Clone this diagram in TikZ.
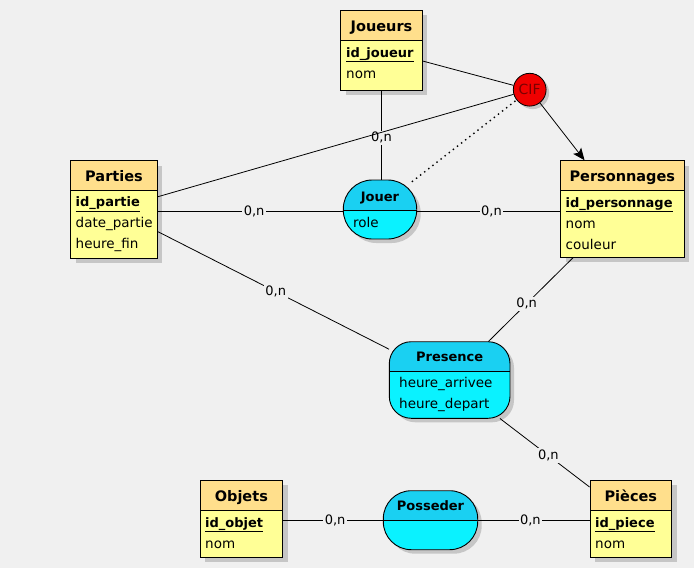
\documentclass[tikz,border=0pt]{standalone}
\usepackage{fontspec}
\setmainfont{DejaVu Sans}
\usetikzlibrary{arrows.meta,fit,calc}
\definecolor{bg}{HTML}{F0F0F0}
\definecolor{enthead}{HTML}{FFDF8C}
\definecolor{entbody}{HTML}{FFFF96}
\definecolor{ashead}{HTML}{1AD0F2}
\definecolor{asbody}{HTML}{0AF2FF}
\definecolor{shadowc}{HTML}{C6C6C6}
\definecolor{cifred}{HTML}{F00000}
\definecolor{ciftext}{HTML}{7A0000}
\tikzset{
  enttitle/.style={inner sep=0pt, anchor=base, font=\fontsize{14.5}{17}\selectfont\bfseries},
  astitle/.style={inner sep=0pt, anchor=base, font=\fontsize{13}{15}\selectfont\bfseries},
  attr/.style={inner sep=0pt, anchor=base west, font=\fontsize{13.5}{16}\selectfont},
  keyattr/.style={inner sep=0pt, anchor=base west, font=\fontsize{13}{16}\selectfont\bfseries},
  lbl/.style={fill=bg, inner sep=1.5pt, font=\fontsize{13}{15}\selectfont},
  conn/.style={draw=black, line width=0.8pt},
  rr/.style n args={5}{insert path={
    (#1+#5,#2) -- (#3-#5,#2) .. controls (#3-#5*0.4477,#2) and (#3,#2+#5*0.4477) .. (#3,#2+#5)
    -- (#3,#4-#5) .. controls (#3,#4-#5*0.4477) and (#3-#5*0.4477,#4) .. (#3-#5,#4)
    -- (#1+#5,#4) .. controls (#1+#5*0.4477,#4) and (#1,#4-#5*0.4477) .. (#1,#4-#5)
    -- (#1,#2+#5) .. controls (#1,#2+#5*0.4477) and (#1+#5*0.4477,#2) .. (#1+#5,#2) -- cycle}},
}
% #1 name, #2 x1, #3 y1, #4 x2, #5 y2, #6 ydiv, #7 title baseline, #8 title
\newcommand\drawent[8]{%
  \fill[shadowc] (#2+5,#3+5) rectangle (#4+5,#5+5);
  \fill[entbody] (#2,#6) rectangle (#4,#5);
  \fill[enthead] (#2,#3) rectangle (#4,#6);
  \node[draw, line width=0.9pt, inner sep=0pt, fit={(#2,#3) (#4,#5)}] (#1) {};
  \draw[line width=0.9pt] (#2,#6) -- (#4,#6);
  \node[enttitle] (#1-t) at ({(#2+#4)/2},#7) {#8};
}
% #1 name, #2 x1, #3 y1, #4 x2, #5 y2, #6 ydiv, #7 radius, #8 title baseline, #9 title
\newcommand\drawas[9]{%
  \path[fill=shadowc, rr={#2+4}{#3+4}{#4+4}{#5+4}{#7}];
  \begin{scope}
    \path[clip, rr={#2}{#3}{#4}{#5}{#7}];
    \fill[asbody] (#2,#6) rectangle (#4,#5);
    \fill[ashead] (#2,#3) rectangle (#4,#6);
    \draw[line width=0.9pt] (#2,#6) -- (#4,#6);
  \end{scope}
  \path[draw, line width=0.9pt, rr={#2}{#3}{#4}{#5}{#7}];
  \node[inner sep=0pt, fit={(#2,#3) (#4,#5)}] (#1) {};
  \node[astitle] (#1-t) at ({(#2+#4)/2},#8) {#9};
}
\begin{document}
\begin{tikzpicture}[x=1pt,y=-1pt]
\useasboundingbox (0,0) rectangle (694,568);
\fill[bg] (0,0) rectangle (694,568);

% entities
\drawent{Joueurs}{340.7}{10}{422.3}{90}{40.5}{31.5}{Joueurs}
\node[keyattr] (j1) at (346,57) {\underline{id\_joueur}};
\node[attr] (j2) at (346,78) {nom};

\drawent{Parties}{70.7}{160.7}{157.3}{258}{190.7}{181}{Parties}
\node[keyattr] (p1) at (75.5,206.5) {\underline{id\_partie}};
\node[attr] (p2) at (75.5,227.5) {date\_partie};
\node[attr] (p3) at (75.5,248.5) {heure\_fin};

\drawent{Personnages}{560.7}{160.7}{684}{257}{190.7}{181}{Personnages}
\node[keyattr] (q1) at (565.5,207) {\underline{id\_personnage}};
\node[attr] (q2) at (565.5,228) {nom};
\node[attr] (q3) at (565.5,249) {couleur};

\drawent{Objets}{200}{480}{282.7}{557}{510}{501.5}{Objets}
\node[keyattr] (o1) at (205,527) {\underline{id\_objet}};
\node[attr] (o2) at (205,548) {nom};

\drawent{Pieces}{590}{480}{671.7}{557}{510}{501.5}{Pièces}
\node[keyattr] (r1) at (595,527) {\underline{id\_piece}};
\node[attr] (r2) at (595,548) {nom};

% associations
\drawas{Jouer}{343.3}{180}{416.7}{239}{210.7}{29}{201}{Jouer}
\node[attr] (a1) at (353,227) {role};

\drawas{Presence}{389.3}{341.7}{510}{418.3}{371.7}{22}{361}{Presence}
\node[attr] (b1) at (399,387) {heure\_arrivee};
\node[attr] (b2) at (399,408.5) {heure\_depart};

\drawas{Posseder}{383.3}{490.7}{477.7}{549.7}{520.3}{28}{510.3}{Posseder}

% CIF
\fill[shadowc] (532.7,92.7) circle (16.4);
\node[circle, fill=cifred, draw, line width=0.8pt, minimum size=32.8pt, inner sep=0pt,
      text=ciftext, font=\fontsize{14}{16}\selectfont] (CIF) at (529.7,89.7) {CIF};

% connectors with cardinalities
\draw[conn] (Joueurs.south) -- node[lbl, pos=0.53] (c1) {0,n} (Joueurs.south |- Jouer.north);
\draw[conn] ([yshift=-1.5pt]Parties.east |- Jouer.center) -- node[lbl, pos=0.52] (c2) {0,n} ([yshift=-1.5pt]Jouer.west);
\draw[conn] ([yshift=-1.5pt]Jouer.east) -- node[lbl, pos=0.52] (c3) {0,n} ([yshift=-1.5pt]Personnages.west |- Jouer.east);
\draw[conn] (Parties) -- node[lbl, pos=0.51] (c4) {0,n} (Presence);
\draw[conn] (Personnages) -- node[lbl, pos=0.55] (c5) {0,n} (Presence);
\draw[conn] (Presence) -- node[lbl, pos=0.54] (c6) {0,n} (Pieces);
\draw[conn] ([yshift=-1.8pt]Objets.east) -- node[lbl, pos=0.52] (c7) {0,n} ([yshift=-1.8pt]Objets.east -| Posseder.west);
\draw[conn] ([yshift=-1.8pt]Pieces.west -| Posseder.east) -- node[lbl, pos=0.47] (c8) {0,n} ([yshift=-1.8pt]Pieces.west);

% CIF links
\draw[conn] (Joueurs) -- (CIF);
\draw[conn] (Parties) -- (CIF);
\draw[conn, line width=1.4pt, dash pattern=on 1.4pt off 3.8pt] ([xshift=-5pt,yshift=-2pt]Jouer.north east) -- (CIF);
\draw[conn, -{Stealth[length=12pt, width=10pt, inset=2.5pt]}] (CIF) -- (Personnages);
\end{tikzpicture}
\end{document}
